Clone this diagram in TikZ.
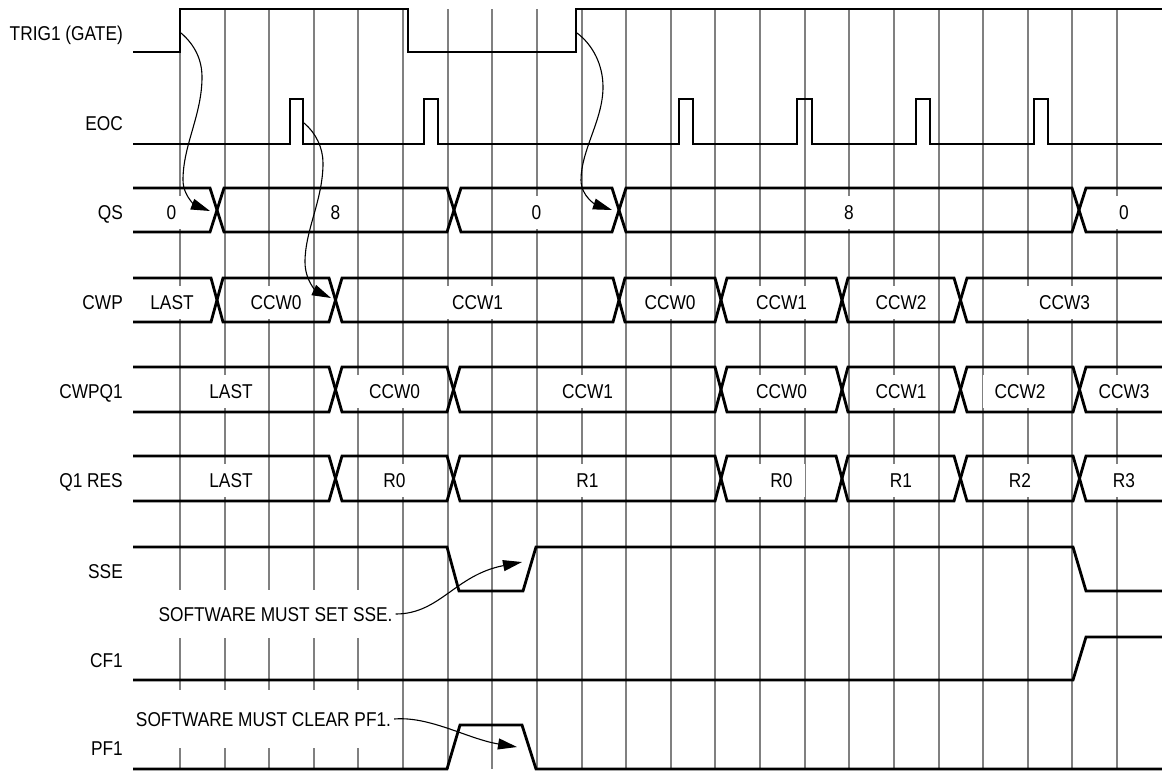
\documentclass[tikz,border=0pt]{standalone}
\usepackage{fontspec}
\setmainfont{Liberation Sans}[FakeStretch=0.865]
\usetikzlibrary{arrows.meta}
\definecolor{gridgray}{RGB}{128,128,128}
\begin{document}
\begin{tikzpicture}[x=1pt,y=-1pt,
  sig/.style={line width=2.8pt, line join=miter, line cap=butt},
  gridline/.style={draw=gridgray, line width=2pt},
  lbl/.style={font=\fontsize{20pt}{24pt}\selectfont, text height=14.3pt, text depth=0pt, inner sep=0pt},
  signame/.style={lbl, anchor=east},
  val/.style={lbl, fill=white, inner xsep=12pt, minimum height=33pt},
  note/.style={lbl, fill=white, inner xsep=3pt},
  ann/.style={line width=1.1pt, -{Triangle[length=19pt,width=11pt]}}]
\useasboundingbox (0,0) rectangle (1162,772);
\fill[white] (0,0) rectangle (1162,772);

% grid
\foreach \k in {0,...,21} \draw[gridline] ({180+44.62*\k},9) -- ({180+44.62*\k},769);

% signal names
\node[signame] (nTRIG) at (123,33) {TRIG1 (GATE)};
\node[signame] (nEOC) at (123,123) {EOC};
\node[signame] (nQS) at (123,212) {QS};
\node[signame] (nCWP) at (123,302) {CWP};
\node[signame] (nCWPQ) at (123,391) {CWPQ1};
\node[signame] (nQRES) at (123,480) {Q1 RES};
\node[signame] (nSSE) at (123,571) {SSE};
\node[signame] (nCF) at (123,660) {CF1};
\node[signame] (nPF) at (123,748) {PF1};

% QS values
\node[val] (qs1) at (171.5,212) {0};
\node[val] (qs2) at (335.5,212) {8};
\node[val] (qs3) at (536.5,212) {0};
\node[val] (qs4) at (849,212) {8};
\node[val] (qs5) at (1124,212) {0};

% CWP values
\node[val] (cw1) at (172,302) {LAST};
\node[val] (cw2) at (276,302) {CCW0};
\node[val] (cw3) at (477.5,302) {CCW1};
\node[val] (cw4) at (670,302) {CCW0};
\node[val] (cw5) at (781.5,302) {CCW1};
\node[val] (cw6) at (901,302) {CCW2};
\node[val] (cw7) at (1064.5,302) {CCW3};

% CWPQ1 values
\node[val] (cq1) at (231,391) {LAST};
\node[val] (cq2) at (394.5,391) {CCW0};
\node[val] (cq3) at (587.5,391) {CCW1};
\node[val] (cq4) at (781.5,391) {CCW0};
\node[val] (cq5) at (901,391) {CCW1};
\node[val] (cq6) at (1020,391) {CCW2};
\node[val] (cq7) at (1124,391) {CCW3};

% Q1 RES values
\node[val] (qr1) at (231,480) {LAST};
\node[val] (qr2) at (394.5,480) {R0};
\node[val] (qr3) at (587.5,480) {R1};
\node[val] (qr4) at (781.5,480) {R0};
\node[val] (qr5) at (901,480) {R1};
\node[val] (qr6) at (1020,480) {R2};
\node[val] (qr7) at (1124,480) {R3};

% notes
\node[note, minimum height=48pt] (noteSSE) at (275.5,614) {SOFTWARE MUST SET SSE.};
\node[note, minimum height=58pt] (noteCLR) at (263.5,719) {SOFTWARE MUST CLEAR PF1.};

% TRIG1
\draw[sig] (133,52) -- (180,52) -- (180,9) -- (408,9) -- (408,52) -- (576,52) -- (576,9) -- (1162,9);
% EOC
\draw[sig] (133,144) -- (290,144) -- (290,99) -- (303,99) -- (303,144)
  -- (424,144) -- (424,99) -- (438,99) -- (438,144)
  -- (679,144) -- (679,99) -- (693,99) -- (693,144)
  -- (797,144) -- (797,99) -- (812,99) -- (812,144)
  -- (916,144) -- (916,99) -- (930,99) -- (930,144)
  -- (1034,144) -- (1034,99) -- (1048,99) -- (1048,144) -- (1162,144);
% QS
\draw[sig] (133,188) -- (210,188) -- (224,232) -- (447,232) -- (461,188) -- (612,188) -- (626,232) -- (1072,232) -- (1086,188) -- (1162,188);
\draw[sig] (133,232) -- (210,232) -- (224,188) -- (447,188) -- (461,232) -- (612,232) -- (626,188) -- (1072,188) -- (1086,232) -- (1162,232);
% CWP
\draw[sig] (133,278) -- (211,278) -- (223,322) -- (329,322) -- (342,278) -- (613,278) -- (625,322) -- (715,322) -- (727,278) -- (836,278) -- (848,322) -- (954,322) -- (967,278) -- (1162,278);
\draw[sig] (133,322) -- (211,322) -- (223,278) -- (329,278) -- (342,322) -- (613,322) -- (625,278) -- (715,278) -- (727,322) -- (836,322) -- (848,278) -- (954,278) -- (967,322) -- (1162,322);
% CWPQ1
\draw[sig] (133,367) -- (329,367) -- (342,412) -- (447,412) -- (460,367) -- (715,367) -- (727,412) -- (836,412) -- (848,367) -- (954,367) -- (967,412) -- (1073,412) -- (1086,367) -- (1162,367);
\draw[sig] (133,412) -- (329,412) -- (342,367) -- (447,367) -- (460,412) -- (715,412) -- (727,367) -- (836,367) -- (848,412) -- (954,412) -- (967,367) -- (1073,367) -- (1086,412) -- (1162,412);
% Q1 RES
\draw[sig] (133,456) -- (329,456) -- (342,501) -- (447,501) -- (460,456) -- (715,456) -- (727,501) -- (836,501) -- (848,456) -- (954,456) -- (967,501) -- (1073,501) -- (1086,456) -- (1162,456);
\draw[sig] (133,501) -- (329,501) -- (342,456) -- (447,456) -- (460,501) -- (715,501) -- (727,456) -- (836,456) -- (848,501) -- (954,501) -- (967,456) -- (1073,456) -- (1086,501) -- (1162,501);
% SSE
\draw[sig] (133,547) -- (447,547) -- (459,591) -- (523,591) -- (536,547) -- (1073,547) -- (1086,591) -- (1162,591);
% CF1
\draw[sig] (133,680) -- (1073,680) -- (1086,637) -- (1162,637);
% PF1
\draw[sig] (133,769) -- (447,769) -- (460,725) -- (522,725) -- (536,769) -- (1162,769);

% arrow end points
\coordinate (trigA) at (181,33);
\coordinate (qsA) at (210,211);
\coordinate (eocA) at (304,123);
\coordinate (cwpA) at (331,298);
\coordinate (trigB) at (577,33);
\coordinate (qsB) at (612,210);
\coordinate (sseTip) at (522,562);
\coordinate (pfTip) at (517,747);

\draw[ann] (trigA) .. controls (195,45) and (202,60) .. (202,77) .. controls (202,115) and (183,145) .. (183,180) .. controls (183,197) and (197,206) .. (qsA);
\draw[ann] (eocA) .. controls (316,133) and (323,148) .. (323,163) .. controls (323,200) and (305,230) .. (305,262) .. controls (305,282) and (318,292) .. (cwpA);
\draw[ann] (trigB) .. controls (593,45) and (603,65) .. (603,87) .. controls (603,120) and (581,150) .. (581,180) .. controls (581,197) and (597,205) .. (qsB);
\draw[ann] (noteSSE.east) .. controls (440,614) and (455,575) .. (sseTip);
\draw[ann] (noteCLR.east) .. controls (430,716) and (468,739) .. (pfTip);
\end{tikzpicture}
\end{document}
